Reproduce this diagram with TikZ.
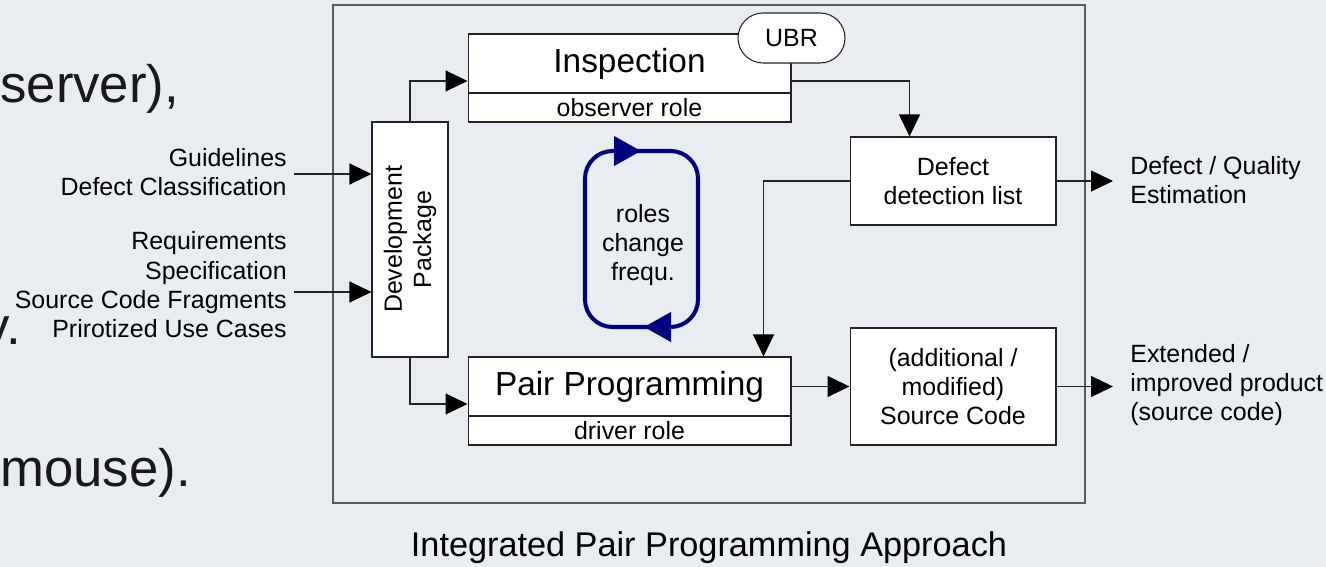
\documentclass[tikz,border=0pt]{standalone}
\usepackage{fontspec}
\setmainfont{Liberation Sans}
\usetikzlibrary{arrows.meta,calc}
\definecolor{bg}{RGB}{233,236,241}
\definecolor{navyc}{RGB}{0,0,128}
\definecolor{frm}{RGB}{90,90,90}
\definecolor{ln}{RGB}{35,35,35}
\begin{document}
\begin{tikzpicture}[x=0.02cm,y=-0.02cm,
  box/.style={draw=ln, line width=0.6pt, fill=white, inner sep=0pt, align=center, text=black},
  sm/.style={font=\fontsize{14.2}{16.7}\selectfont, text=black},
  bigt/.style={font=\fontsize{19}{22}\selectfont},
  bgtext/.style={font=\fontsize{30}{36}\selectfont, text=black!90, inner sep=0pt},
  arr/.style={draw=ln, line width=0.6pt, -{Triangle[length=0.44cm,width=0.42cm,color=black]}},
  cyc/.style={draw=navyc, line width=2.3pt},
  cyctip/.style={draw=navyc, line width=2.3pt, -{Triangle[length=0.54cm,width=0.58cm]}}
]
\fill[bg] (0,0) rectangle (1326,567);
\useasboundingbox (0,0) rectangle (1326,567);

% background slide fragments
\node[bgtext, anchor=base west] (bg1) at (0,103) {server),};
\node[bgtext, anchor=base west] (bg2) at (-16.5,345) {y.};
\node[bgtext, anchor=base west] (bg3) at (0,487) {mouse).};

% frame
\draw[frm, line width=1pt] (333,5) rectangle (1085,503);

% boxes
\node[box, minimum width=1.52cm, minimum height=4.7cm] (dev) at (410,239.5) {};
\node[sm, rotate=90, align=center, inner sep=0pt] (devtext) at (dev.center) {Development\\Package};

\node[box, bigt, minimum width=6.46cm, minimum height=1.18cm] (insp) at (629.5,63.5) {Inspection};
\node[box, sm, minimum width=6.46cm, minimum height=0.58cm] (insprole) at (629.5,107.5) {observer role};
\node[box, sm, rounded corners=0.5cm, minimum width=2.14cm, minimum height=1cm] (ubr) at (791.5,38) {UBR};

\node[box, bigt, minimum width=6.46cm, minimum height=1.18cm] (pp) at (629.5,386.5) {Pair Programming};
\node[box, sm, minimum width=6.46cm, minimum height=0.58cm] (pprole) at (629.5,430.5) {driver role};

\node[box, sm, minimum width=4.12cm, minimum height=1.76cm] (defect) at (953,181) {Defect\\detection list};
\node[box, sm, minimum width=4.12cm, minimum height=2.34cm] (src) at (953,386.5) {(additional /\\modified)\\Source Code};

% input labels
\node[sm, align=right, anchor=east, inner sep=0pt] (lab1) at (287,172) {Guidelines\\Defect Classification};
\node[sm, align=right, anchor=east, inner sep=0pt] (lab2) at (287,285) {Requirements\\Specification\\Source Code Fragments\\Prirotized Use Cases};
\coordinate (in1) at (294,174);
\coordinate (in2) at (294,292);

% output labels
\node[sm, align=left, anchor=west, inner sep=0pt] (out1lab) at (1130,180) {Defect / Quality\\Estimation};
\node[sm, align=left, anchor=west, inner sep=0pt] (out2lab) at (1130,385) {Extended /\\improved product\\(source code)};
\coordinate (out1) at (1113,181);

% connectors
\draw[arr] (in1) -- (in1 -| dev.west);
\draw[arr] (in2) -- (in2 -| dev.west);
\draw[arr] (dev.north) |- ([yshift=-0.35cm]insp.west);
\draw[arr] (dev.south) |- ([yshift=-0.35cm]pp.west);
\draw[arr] ([yshift=-0.35cm]insp.east) -| ([xshift=-2.94cm]defect.north east);
\draw[arr] (defect.west) -| ([xshift=-0.56cm]pp.north east);
\draw[arr] (pp.east) -- (pp.east -| src.west);
\draw[arr] (defect.east) -- (out1);
\draw[arr] (src.east) -- (src.east -| out1);

% role change cycle
\draw[cyc, rounded corners=0.55cm] (585,151) rectangle (698,327);
\draw[cyctip] (612,151) -- (641,151);
\draw[cyctip] (672,327) -- (644,327);
\node[sm, align=center, inner sep=0pt] (cyctext) at (643,245) {roles\\change\\frequ.};

% caption
\node[font=\fontsize{19.5}{23}\selectfont, text=black] (cap) at (709,548) {Integrated Pair Programming Approach};
\end{tikzpicture}
\end{document}
